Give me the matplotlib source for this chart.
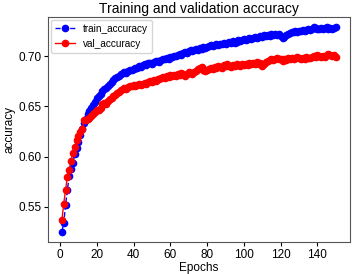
import matplotlib
matplotlib.use("Agg")
import matplotlib.pyplot as plt

plt.rcParams['font.family'] = ['Liberation Sans', 'DejaVu Sans']

# Data
epochs = list(range(1, 151))

train_acc = [
    0.525, 0.534, 0.552, 0.567, 0.581, 0.588, 0.594, 0.603, 0.609, 0.614,
    0.621, 0.627, 0.633, 0.637, 0.642, 0.645, 0.648, 0.651, 0.654, 0.658,
    0.660, 0.662, 0.665, 0.667, 0.668, 0.670, 0.672, 0.674, 0.676, 0.678,
    0.679, 0.680, 0.682, 0.683, 0.684, 0.683, 0.685, 0.686, 0.686, 0.687,
    0.688, 0.688, 0.690, 0.689, 0.691, 0.692, 0.691, 0.693, 0.693, 0.692,
    0.694, 0.695, 0.695, 0.694, 0.696, 0.697, 0.697, 0.698, 0.697, 0.699,
    0.699, 0.700, 0.700, 0.701, 0.702, 0.701, 0.703, 0.704, 0.703, 0.705,
    0.706, 0.705, 0.706, 0.707, 0.706, 0.708, 0.707, 0.709, 0.708, 0.709,
    0.710, 0.711, 0.710, 0.711, 0.712, 0.711, 0.712, 0.712, 0.713, 0.712,
    0.713, 0.714, 0.713, 0.715, 0.713, 0.714, 0.716, 0.715, 0.716, 0.717,
    0.716, 0.717, 0.718, 0.717, 0.718, 0.719, 0.718, 0.719, 0.720, 0.719,
    0.721, 0.720, 0.721, 0.720, 0.722, 0.721, 0.722, 0.721, 0.722, 0.720,
    0.718, 0.719, 0.721, 0.722, 0.723, 0.724, 0.724, 0.725, 0.724, 0.725,
    0.725, 0.726, 0.725, 0.726, 0.727, 0.726, 0.727, 0.729, 0.728, 0.727,
    0.727, 0.728, 0.727, 0.728, 0.729, 0.727, 0.728, 0.727, 0.728, 0.729,
]

val_acc = [
    0.537, 0.553, 0.567, 0.580, 0.587, 0.596, 0.604, 0.610, 0.616, 0.620,
    0.624, 0.627, 0.636, 0.636, 0.637, 0.638, 0.640, 0.642, 0.644, 0.646,
    0.646, 0.648, 0.652, 0.653, 0.652, 0.655, 0.657, 0.658, 0.660, 0.661,
    0.663, 0.664, 0.666, 0.667, 0.668, 0.667, 0.669, 0.670, 0.670, 0.671,
    0.670, 0.671, 0.672, 0.671, 0.672, 0.673, 0.672, 0.674, 0.675, 0.674,
    0.676, 0.675, 0.677, 0.677, 0.678, 0.679, 0.678, 0.680, 0.679, 0.681,
    0.680, 0.681, 0.680, 0.682, 0.681, 0.683, 0.682, 0.680, 0.682, 0.684,
    0.683, 0.682, 0.684, 0.685, 0.687, 0.688, 0.689, 0.686, 0.685, 0.686,
    0.687, 0.688, 0.687, 0.689, 0.688, 0.690, 0.689, 0.688, 0.691, 0.690,
    0.692, 0.690, 0.689, 0.691, 0.690, 0.692, 0.691, 0.690, 0.692, 0.691,
    0.692, 0.691, 0.693, 0.692, 0.693, 0.692, 0.694, 0.692, 0.693, 0.690,
    0.692, 0.694, 0.695, 0.696, 0.697, 0.696, 0.697, 0.698, 0.697, 0.697,
    0.695, 0.697, 0.696, 0.698, 0.697, 0.698, 0.697, 0.698, 0.699, 0.698,
    0.697, 0.698, 0.697, 0.699, 0.698, 0.698, 0.699, 0.700, 0.699, 0.701,
    0.700, 0.699, 0.700, 0.699, 0.701, 0.702, 0.701, 0.700, 0.701, 0.699,
]

fig = plt.figure(figsize=(3.52, 2.74), dpi=100)
ax = fig.add_axes([0.137, 0.117, 0.856, 0.821])

ax.plot(epochs, train_acc, 'b--o', markersize=4.5, linewidth=1, label='train_accuracy')
ax.plot(epochs, val_acc, 'r-o', markersize=4.5, linewidth=1, label='val_accuracy')

ax.set_title('Training and validation accuracy', fontsize=10, pad=3)
ax.set_xlabel('Epochs', fontsize=8.5, labelpad=1)
ax.set_ylabel('accuracy', fontsize=8.5, labelpad=2)
ax.tick_params(labelsize=8.5, length=3, pad=2)
ax.set_xticks(range(0, 141, 20))
ax.set_yticks([0.55, 0.60, 0.65, 0.70])
for s in ax.spines.values():
    s.set_color('#555555')
ax.legend(loc='upper left', fontsize=7.2, borderaxespad=0.3)

fig.savefig('out.png', dpi=100)
